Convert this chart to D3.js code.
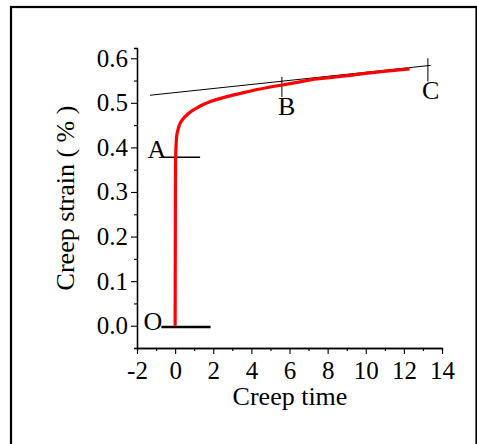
<!DOCTYPE html>
<html>
<head>
<meta charset="utf-8">
<script src="https://cdn.jsdelivr.net/npm/d3@7"></script>
<style>
    body { margin: 0; background: #fff; }
    text { font-family: "Liberation Serif", "Times New Roman", serif; fill: #000; }
</style>
</head>
<body>
<div id="chart"></div>
<script>
// creep curve (time, strain %)
var creepTime   = [0, 0.01, 0.02, 0.04, 0.08, 0.17, 0.3, 0.52, 0.96, 1.85, 2.72, 3.6, 4.45, 5.6, 6.55, 7.3, 9.05, 10.8, 12.3];
var creepStrain = [0, 0.2, 0.36, 0.395, 0.425, 0.443, 0.457, 0.469, 0.484, 0.503, 0.514, 0.523, 0.531, 0.540, 0.547, 0.553, 0.561, 0.570, 0.576];

// tangent line (start, end)
var tangentTime   = [-1.32, 13.4];
var tangentStrain = [0.517, 0.584];

// stage markers: O and A are horizontal, B and C vertical
var markerNames  = ["O", "A", "B", "C"];
var markerT1     = [-0.72, -0.7, 5.6, 13.26];
var markerT2     = [1.86, 1.31, 5.6, 13.26];
var markerV1     = [-0.003, 0.378, 0.558, 0.6];
var markerV2     = [-0.003, 0.378, 0.513, 0.548];
var labelT       = [-0.68, -0.47, 5.85, 13.4];
var labelV       = [-0.01, 0.376, 0.473, 0.508];

var xTicks = [-2, 0, 2, 4, 6, 8, 10, 12, 14];
var yTicks = [0.0, 0.1, 0.2, 0.3, 0.4, 0.5, 0.6];

var W = 477, H = 444;

var svg = d3.select("#chart")
    .append("svg")
    .attr("width", W)
    .attr("height", H);

svg.append("rect")
    .attr("x", 11)
    .attr("y", 7)
    .attr("width", 465.5)
    .attr("height", 460)
    .attr("fill", "#fff")
    .attr("stroke", "#000")
    .attr("stroke-width", 2.2);

var x = d3.scaleLinear().domain([-2, 14]).range([137, 442]);
var y = d3.scaleLinear().domain([-0.05, 0.623]).range([348, 48]);

// minor ticks first so the major ones draw on top
var xMinor = d3.range(-1, 14, 2);
var yMinor = d3.range(-0.05, 0.6, 0.1);

svg.append("g")
    .attr("transform", "translate(0,348)")
    .call(d3.axisBottom(x).tickValues(xMinor).tickSize(3).tickFormat(""));
svg.append("g")
    .attr("transform", "translate(137,0)")
    .call(d3.axisLeft(y).tickValues(yMinor).tickSize(3).tickFormat(""));

var xAxis = svg.append("g")
    .attr("transform", "translate(0,348)")
    .call(d3.axisBottom(x)
        .tickValues(xTicks)
        .tickSize(6)
        .tickSizeOuter(0)
        .tickPadding(7)
        .tickFormat(function(d) { return String(d); }));

var yAxis = svg.append("g")
    .attr("transform", "translate(137,0)")
    .call(d3.axisLeft(y)
        .tickValues(yTicks)
        .tickSize(6)
        .tickSizeOuter(0)
        .tickPadding(3)
        .tickFormat(d3.format(".1f")));

svg.selectAll(".domain").attr("stroke", "#000").attr("stroke-width", 1.3);
svg.selectAll(".tick line").attr("stroke", "#000").attr("stroke-width", 1.1);
svg.selectAll(".tick text")
    .style("font-family", "'Liberation Serif', serif")
    .style("font-size", "25px");
// minor y ticks sit under -0.05 .. 0.55, the domain path already covers the ends

svg.append("text")
    .attr("x", 290)
    .attr("y", 405)
    .attr("text-anchor", "middle")
    .style("font-size", "26px")
    .text("Creep time");

svg.append("text")
    .attr("transform", "translate(74,198) rotate(-90)")
    .attr("text-anchor", "middle")
    .style("font-size", "26px")
    .text("Creep strain ( % )");

// tangent
svg.append("line")
    .attr("x1", x(tangentTime[0]))
    .attr("y1", y(tangentStrain[0]))
    .attr("x2", x(tangentTime[1]))
    .attr("y2", y(tangentStrain[1]))
    .attr("stroke", "#000")
    .attr("stroke-width", 1);

// markers
var markerWidths = [2.6, 1.6, 1, 1];
for (var i = 0; i < markerNames.length; i++) {
    svg.append("line")
        .attr("x1", x(markerT1[i]))
        .attr("y1", y(markerV1[i]))
        .attr("x2", x(markerT2[i]))
        .attr("y2", y(markerV2[i]))
        .attr("stroke", "#000")
        .attr("stroke-width", markerWidths[i]);
}

// curve
var pts = creepTime.map(function(t, i) { return [t, creepStrain[i]]; });
var line = d3.line()
    .x(function(d) { return x(d[0]); })
    .y(function(d) { return y(d[1]); })
    .curve(d3.curveMonotoneY);

svg.append("path")
    .datum(pts)
    .attr("d", line)
    .attr("fill", "none")
    .attr("stroke", "#ff0000")
    .attr("stroke-width", 3.2);

// marker labels
var anchors = ["end", "end", "middle", "middle"];
for (var j = 0; j < markerNames.length; j++) {
    svg.append("text")
        .attr("x", x(labelT[j]))
        .attr("y", y(labelV[j]))
        .attr("text-anchor", anchors[j])
        .style("font-size", "26px")
        .text(markerNames[j]);
}
</script>
</body>
</html>
